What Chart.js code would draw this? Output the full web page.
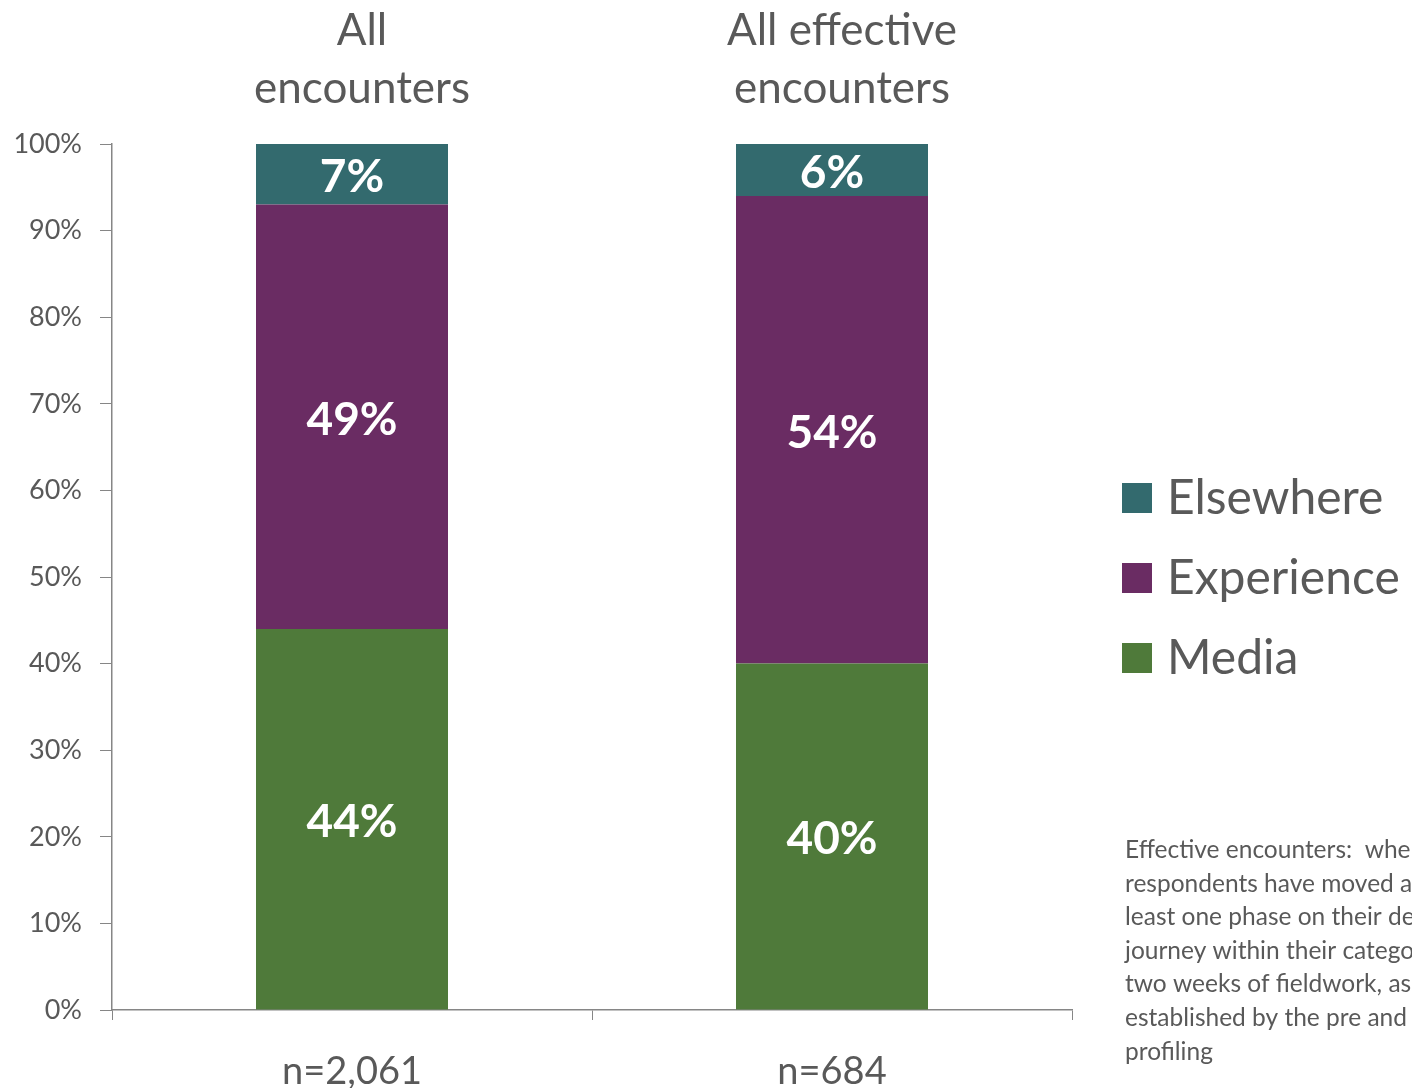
<!DOCTYPE html>
<html>
<head>
<meta charset="utf-8">
<script src="https://cdn.jsdelivr.net/npm/chart.js@4/dist/chart.umd.min.js"></script>
<style>
  html, body { margin: 0; padding: 0; background: #fff; overflow: hidden; }
  canvas { display: block; }
</style>
</head>
<body>
<canvas id="myChart" width="1412" height="1088"></canvas>
<script>
// categories and sample sizes
var groups = [["All", "encounters"], ["All effective", "encounters"]];
var sampleSizes = ["n=2,061", "n=684"];

// share of encounters (%) by source
var media = [44, 40];
var experience = [49, 54];
var elsewhere = [7, 6];

var yTicks = [0, 10, 20, 30, 40, 50, 60, 70, 80, 90, 100];

var footnote = [
    "Effective encounters:  where",
    "respondents have moved at",
    "least one phase on their decision",
    "journey within their category in",
    "two weeks of fieldwork, as",
    "established by the pre and post",
    "profiling"
];

var FONT = "Lato, 'Open Sans', sans-serif";
var GREY_TEXT = "#595959";
var AXIS = "#868686";

// labels inside the bars, group titles, legend and the note on the right
var extras = {
    id: "extras",
    afterDatasetsDraw: function(chart) {
        var ctx = chart.ctx;
        ctx.save();
        ctx.fillStyle = "#ffffff";
        ctx.font = "bold 46px " + FONT;
        ctx.textAlign = "center";
        ctx.textBaseline = "middle";
        chart.data.datasets.forEach(function(ds, i) {
            chart.getDatasetMeta(i).data.forEach(function(bar, j) {
                var mid = (bar.y + bar.base) / 2;
                ctx.fillText(ds.data[j] + "%", bar.x, mid + 3);
            });
        });
        ctx.restore();
    },
    afterDraw: function(chart) {
        var ctx = chart.ctx;
        var x = chart.scales.x;
        ctx.save();

        // group titles above the bars
        ctx.fillStyle = GREY_TEXT;
        ctx.font = "44px " + FONT;
        ctx.textAlign = "center";
        ctx.textBaseline = "middle";
        groups.forEach(function(lines, i) {
            var cx = x.getPixelForValue(i) + 10;
            lines.forEach(function(line, k) {
                ctx.fillText(line, cx, 31 + k * 58);
            });
        });

        // legend, top series first
        ctx.textAlign = "left";
        ctx.font = "48px " + FONT;
        var order = chart.data.datasets.slice().reverse();
        order.forEach(function(ds, i) {
            var cy = 498 + i * 80;
            ctx.fillStyle = ds.backgroundColor;
            ctx.fillRect(1122, cy - 15, 30, 30);
            ctx.fillStyle = GREY_TEXT;
            ctx.fillText(ds.label, 1167, cy + 1);
        });

        // footnote
        ctx.font = "24.5px " + FONT;
        footnote.forEach(function(line, i) {
            ctx.fillText(line, 1125, 850 + i * 33.6);
        });
        ctx.restore();
    }
};

var ctx = document.getElementById("myChart").getContext("2d");
var chart = new Chart(ctx, {
    type: "bar",
    data: {
        labels: sampleSizes,
        datasets: [
            { label: "Media", data: media, backgroundColor: "#4f7a3a" },
            { label: "Experience", data: experience, backgroundColor: "#6a2c63" },
            { label: "Elsewhere", data: elsewhere, backgroundColor: "#336a6e" }
        ]
    },
    options: {
        responsive: false,
        animation: false,
        layout: { padding: { top: 144, right: 340, left: 0, bottom: 0 } },
        datasets: {
            bar: { categoryPercentage: 1, barPercentage: 0.4, borderWidth: 0 }
        },
        plugins: {
            legend: { display: false },
            tooltip: { enabled: false }
        },
        scales: {
            x: {
                stacked: true,
                afterFit: function(scale) { scale.height = 78; },
                border: { color: AXIS, width: 1.5 },
                grid: { drawOnChartArea: false, color: AXIS, tickLength: 10, offset: true },
                ticks: {
                    color: GREY_TEXT,
                    padding: 29,
                    font: { family: FONT, size: 38 }
                }
            },
            y: {
                stacked: true,
                min: 0,
                max: 100,
                afterFit: function(scale) { scale.width = 112; },
                afterBuildTicks: function(scale) {
                    scale.ticks = yTicks.map(function(v) { return { value: v }; });
                },
                border: { color: AXIS, width: 1.5 },
                grid: { drawOnChartArea: false, color: AXIS, tickLength: 12 },
                ticks: {
                    color: GREY_TEXT,
                    padding: 18,
                    font: { family: FONT, size: 27 },
                    callback: function(v) { return v + "%"; }
                }
            }
        }
    },
    plugins: [extras]
});
</script>
</body>
</html>
